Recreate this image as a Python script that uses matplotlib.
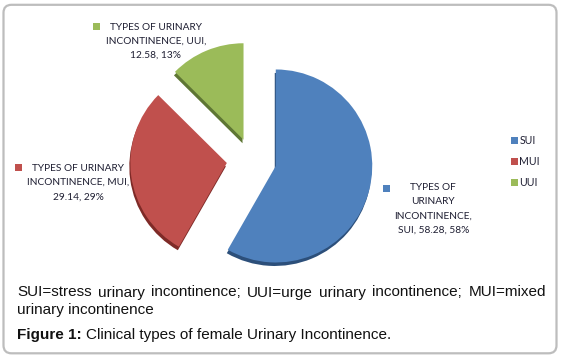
import matplotlib
matplotlib.use("Agg")
import matplotlib.pyplot as plt
from matplotlib.patches import FancyBboxPatch, Rectangle

categories = ["SUI", "MUI", "UUI"]
values = [58.28, 29.14, 12.58]
percents = ["58%", "29%", "13%"]
colors = ["#4F81BD", "#C0504D", "#9BBB59"]
shadow_colors = ["#2C4F7A", "#7E2A27", "#5E7634"]
caption_line1 = "SUI=stress urinary incontinence; UUI=urge urinary incontinence; MUI=mixed"
caption_line2 = "urinary incontinence"
fig_label = "Figure 1:"
fig_title = "Clinical types of female Urinary Incontinence."

W, H = 562, 362
fig = plt.figure(figsize=(W / 100, H / 100), dpi=100)
ax = fig.add_axes([0, 0, 1, 1])

def Y(y):
    return H - y

cx, cy, r = 251.8, Y(159.6), 96.5
expl = [24.8, 25.2, 21.5]

# 3D rim / shadow
ax.pie(values, colors=shadow_colors, startangle=90, counterclock=False,
       center=(cx - 1, cy - 3.5), radius=r, explode=expl, frame=True,
       wedgeprops=dict(lw=0, zorder=1))
ax.pie(values, colors=colors, startangle=90, counterclock=False,
       center=(cx, cy), radius=r, explode=expl, frame=True,
       wedgeprops=dict(lw=0, zorder=2))
ax.set_xlim(0, W)
ax.set_ylim(0, H)
ax.set_aspect("equal")
ax.axis("off")

# outer rounded frame
frame = FancyBboxPatch((3.5, Y(353.3)), 553, 348.5, boxstyle="round,pad=0,rounding_size=8",
                       fc="white", ec="#BDBDBD", lw=1.6, zorder=0)
ax.add_patch(frame)

LFAM = ["Lato", "DejaVu Sans"]
lab_font = dict(family=LFAM, fontsize=7.3,
                color="#1E1E32", ha="center", va="center", zorder=5)

def label_block(mx, my, tx, ty, lines, color, dy=14.3):
    ax.add_patch(Rectangle((mx - 3.5, Y(my) - 3.5), 7, 7, fc=color, ec="none", zorder=5))
    for i, t in enumerate(lines):
        ax.text(tx, Y(ty + i * dy), t, **lab_font)

label_block(96, 26, 156, 27,
            ["TYPES OF URINARY", f"INCONTINENCE, {categories[2]},",
             f"{values[2]:.2f}, {percents[2]}"], colors[2])
label_block(18, 167.5, 78.5, 168.3,
            ["TYPES OF URINARY", f"INCONTINENCE, {categories[1]},",
             f"{values[1]:.2f}, {percents[1]}"], colors[1])
label_block(386.7, 188, 433.3, 187.5,
            ["TYPES OF", "URINARY", "INCONTINENCE,",
             f"{categories[0]}, {values[0]:.2f}, {percents[0]}"], colors[0])

# legend
for i, (c, col) in enumerate(zip(categories, colors)):
    yy = 140 + i * 21.2
    ax.add_patch(Rectangle((511, Y(yy) - 3.5), 7, 7, fc=col, ec="none", zorder=5))
    ax.text(519.5, Y(yy), c, family=LFAM,
            fontsize=7.6, color="#1E1E32", ha="left", va="center")

cap = dict(family=["Liberation Sans", "DejaVu Sans"], fontsize=11.0, color="#111111",
           ha="left", va="center")

fig.canvas.draw()
renderer = fig.canvas.get_renderer()

def width_px(t, **kw):
    tt = ax.text(0, 0, t, **kw)
    w = tt.get_window_extent(renderer).width
    tt.remove()
    return w

# justified first caption line
words = caption_line1.split(" ")
x0, x1 = 17, 546
ws = [width_px(w, **cap) for w in words]
gap = (x1 - x0 - sum(ws)) / (len(words) - 1)
x = x0
for w, wd in zip(words, ws):
    ax.text(x, Y(292.5), w, **cap)
    x += wd + gap

ax.text(x0, Y(310), caption_line2, **cap)
ax.text(x0, Y(334.5), fig_label, fontweight="bold", **cap)
bw = width_px(fig_label + " ", fontweight="bold", **cap)
ax.text(x0 + bw, Y(334.5), fig_title, **cap)

fig.savefig("out.png", dpi=100)
